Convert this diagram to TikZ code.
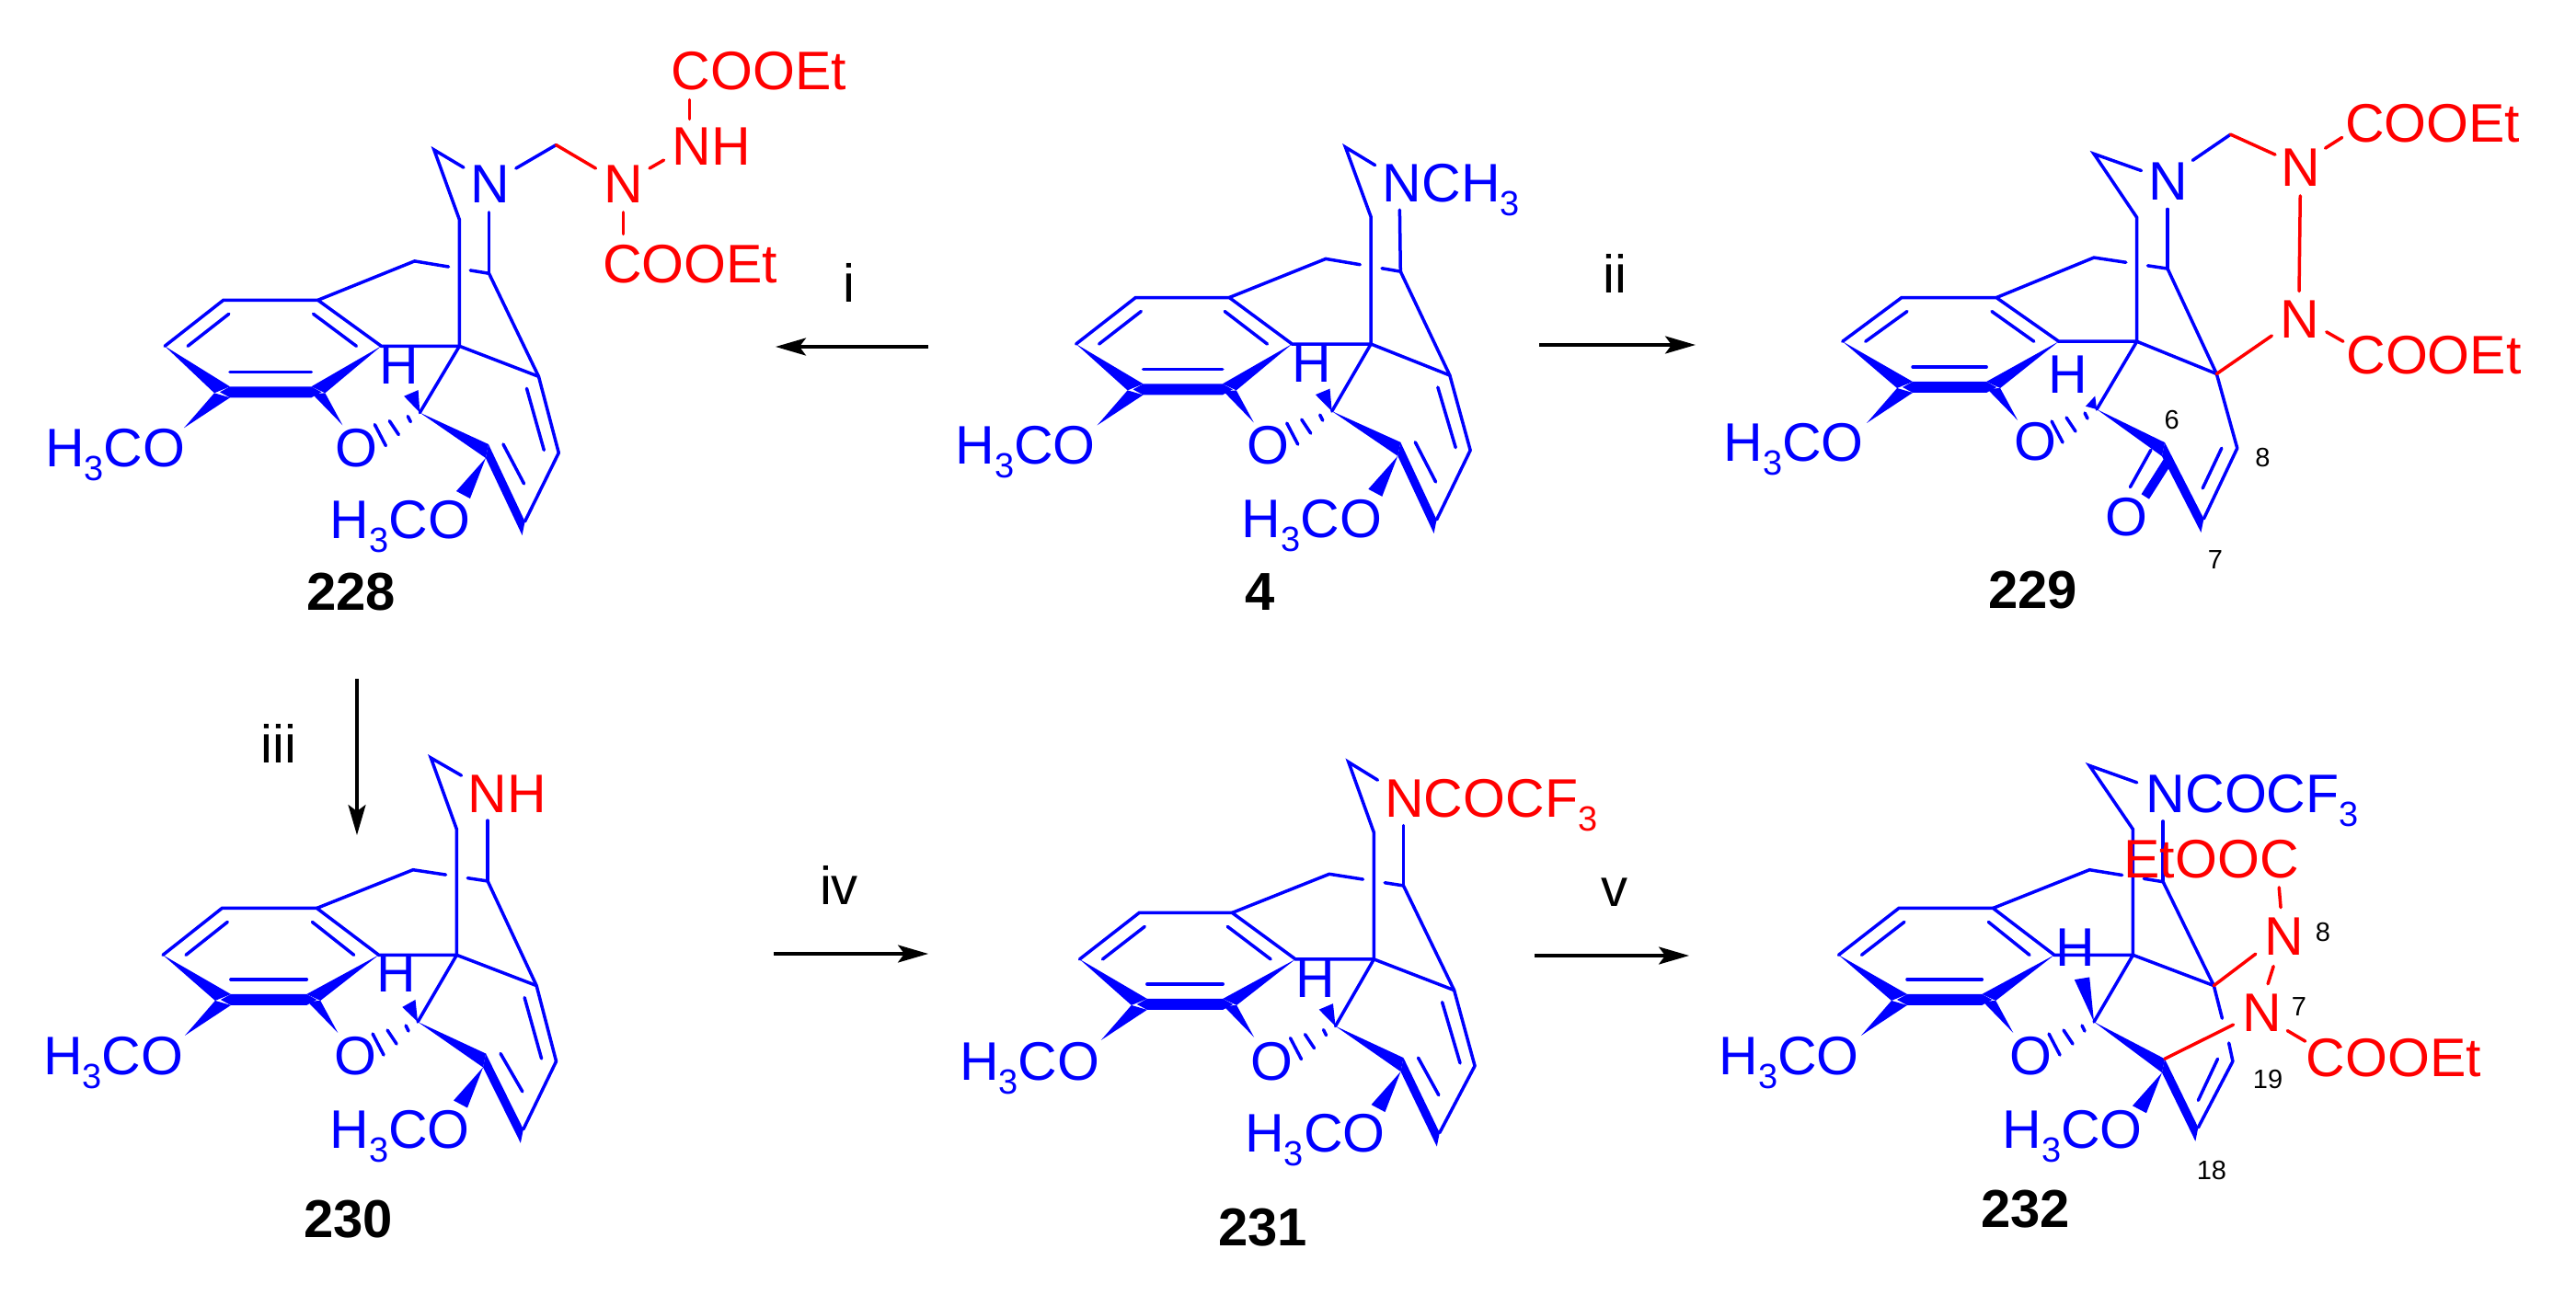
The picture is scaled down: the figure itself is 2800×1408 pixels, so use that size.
\documentclass[tikz,border=0pt]{standalone}
\usepackage{fontspec}
\setmainfont{Liberation Sans}
\usetikzlibrary{calc,arrows.meta}
\definecolor{mb}{RGB}{0,0,255}
\definecolor{mr}{RGB}{255,0,0}
\newcommand\setatoms[1]{\foreach \n/\a/\b in {#1} {\coordinate (\n) at (\a,\b);}}
\newcommand\sub[1]{\raisebox{-15pt}{\fontsize{38}{40}\selectfont #1}}
\newcommand\hco{H\sub{3}CO}
\tikzset{
  bd/.style={draw=mb,line width=3.5pt,line cap=round},
  rb/.style={draw=mr,line width=3.5pt,line cap=round},
  lab/.style={anchor=base west,inner sep=0pt,xshift=-4pt,font=\fontsize{59}{62}\selectfont},
  bl/.style={lab,text=mb},
  rd/.style={lab,text=mr},
  num/.style={anchor=base west,inner sep=0pt,text=black,font=\fontsize{29}{32}\selectfont},
  cmp/.style={anchor=base,inner sep=0pt,text=black,font=\fontsize{58}{62}\selectfont\bfseries},
  stp/.style={anchor=base,inner sep=0pt,text=black,font=\fontsize{58}{62}\selectfont},
  arr/.style={draw=black,line width=3.5pt,-{Stealth[length=33pt,width=19pt,inset=7pt]}},
  zA/.style={shift={(0,0)},x=0.574pt,y=-0.4464pt},
  zB/.style={shift={(1000,100)},x=0.4464pt,y=-0.3827pt},
  zC/.style={shift={(1850,50)},x=0.606pt,y=-0.4145pt},
  zD/.style={shift={(0,780)},x=0.5102pt,y=-0.3827pt},
  zE/.style={shift={(1000,780)},x=0.5102pt,y=-0.3827pt},
  zF/.style={shift={(1850,780)},x=0.606pt,y=-0.3827pt},
}
\newcommand\core{%
  \coordinate (cx) at (intersection cs:first line={(c1)--(c2)},second line={(c4)--(c0)});
  \draw[bd] (r1)--(r2)--(r3)--(r4)--(c0)--(c3);
  \draw[bd] (r3)--(c1)--($(cx)!12pt!(c1)$);
  \draw[bd] ($(cx)!12pt!(c2)$)--(c2)--(c3);
  \draw[bd] (e2)--(c2);
  \draw[bd] (c0)--(c4)--(c9)--(e9);
  \draw[bd] (c0)--(c5);
  \draw[bd] (c7)--(c8);
  % inner ring bonds
  \draw[bd] ($(r1)+(25,0)$)--($(r2)+(6,15)$);
  \draw[bd] ($(r3)+(-5,15)$)--($(r4)+(-27,0)$);
  \draw[bd] ($(r6)+(6,-22)$)--($(r5)+(-6,-22)$);
  % bold ring bond
  \fill[mb] ($(r6)+(-5,0)$)--($(r6)+(6,-6)$)--($(r5)+(-6,-6)$)--($(r5)+(5,0)$)--($(r5)+(-6,6)$)--($(r6)+(6,6)$)--cycle;
  % wedges on ring
  \fill[mb] (r1)--($(r6)+(6,-6)$)--($(r6)+(-11,1)$)--cycle;
  \fill[mb] (r4)--($(r5)+(-6,-6)$)--($(r5)+(9,1)$)--cycle;
  \fill[mb] ($(r6)+(-44,39)$)--($(r6)+(-11,1)$)--($(r6)+(6,6)$)--cycle;
  \fill[mb] ($(r5)+(28,36)$)--($(r5)+(-5,2)$)--($(r5)+(9,1)$)--cycle;
  % stereo bonds at c5
  \fill[mb] (c5)--(hA)--(hB)--cycle;
  \draw[bd] ($(c5)+(-49,13)$)--($(c5)+(-37,36)$);
  \draw[bd] ($(c5)+(-33,9)$)--($(c5)+(-23,24)$);
  \draw[bd] ($(c5)+(-13,4)$)--($(c5)+(-10,10)$);
  % bold path c5-c6-c7
  \coordinate (c6b) at ($(c6)+(-3,15)$);
  \fill[mb] (c5)--(c6)--(c6b)--cycle;
  \fill[mb] (c7)--($(c7)+(-3,15)$)--(c6b)--(c6)--cycle;
}
\newcommand\ome{\fill[mb] (c6b)--($(c6b)+(-32,36)$)--($(c6b)+(-17,44)$)--cycle;}
\newcommand\dblA{%
  \draw[bd] (c3)--(c8);
  \draw[bd] ($(c3)+(-13,13)$)--($(c8)+(-16,-3)$);
  \draw[bd] ($(c6)+(16,0)$)--($(c7)+(-1,-41)$);
}
\begin{document}
\begin{tikzpicture}[x=1pt,y=-1pt]
\useasboundingbox (0,0) rectangle (2800,1408);
\fill[white] (0,0) rectangle (2800,1408);
% ---------- 228 ----------
\begin{scope}[zA]
\setatoms{r1/312/843,r2/423/731,r3/602/731,r4/722/843,r5/600/955,r6/425/955,c1/785/636,c2/926/666,c3/1020/917,c0/870/843,c4/870/535,c9/822/365,c5/795/1005,c6/925/1082,c7/994/1270,c8/1058/1103,e9/878/408,e2/926/517,hA/765/965,hB/792/950,
p1/977/410,p2/1053/353,p3/1128/410,p4/1230/410,p5/1257/390,p6/1306/243,p7/1306/290,p8/1180/517,p9/1180/570}
\end{scope}
\core\ome\dblA
\begin{scope}[zA]
\draw[bd] (p1)--(p2);
\draw[rb] (p2)--(p3);
\draw[rb] (p4)--(p5);
\draw[rb] (p6)--(p7);
\draw[rb] (p8)--(p9);
\node[bl] (a1) at (897,495) {N};
\node[rd] (a2) at (1150,495) {N};
\node[rd] (a3) at (1280,403) {NH};
\node[rd] (a4) at (1278,218) {COOEt};
\node[rd] (a5) at (1148,688) {COOEt};
\node[bl] (a6) at (725,936) {H};
\node[bl] (a7) at (92,1137) {\hco};
\node[bl] (a8) at (642,1137) {O};
\node[bl] (a9) at (632,1312) {\hco};
\node[cmp] (a10) at (665,1487) {228};
\end{scope}
% ---------- 4 ----------
\begin{scope}[zB]
\setatoms{r1/380/716,r2/525/584,r3/753/584,r4/906/716,r5/750/845,r6/530/845,c1/988/474,c2/1170/510,c3/1290/805,c0/1098/716,c4/1098/355,c9/1036/157,c5/1003/907,c6/1170/995,c7/1258/1215,c8/1340/1018,e9/1108/208,e2/1168/335,hA/963/860,hB/998/843}
\end{scope}
\core\ome\dblA
\begin{scope}[zB]
\node[bl] (b1) at (1135,312) {NCH\sub{3}};
\node[bl] (b2) at (915,825) {H};
\node[bl] (b3) at (95,1058) {\hco};
\node[bl] (b4) at (805,1058) {O};
\node[bl] (b5) at (792,1267) {\hco};
\node[cmp] (b6) at (828,1472) {4};
\end{scope}
% ---------- 229 ----------
\begin{scope}[zC]
\setatoms{r1/252/775,r2/358/660,r3/528/660,r4/640/775,r5/520/895,r6/368/895,c1/703/555,c2/835/584,c3/923/860,c0/780/775,c4/780/450,c9/703/283,c5/708/953,c6/830/1040,c7/900/1240,c8/960/1055,e9/788/327,e2/835/428,hA/688/945,hB/705/918,
p1/880/300,p2/948/232,p3/1028/285,p4/1118/268,p5/1148/240,p6/1073/393,p7/1071/643,p8/1120/750,p9/1150/775,p10/1022/760,i1/932/1055,i2/898/1160,o1/805/1060,o2/768/1157,o3/835/1090,o4/795/1182}
\end{scope}
\core
\draw[bd] (c3)--(c8);
\begin{scope}[zC]
\draw[bd] (i1)--(i2);
\draw[bd] (o1)--(o2);
\draw[mb,line width=10pt] (o3)--(o4);
\draw[bd] (p1)--(p2);
\draw[rb] (p2)--(p3);
\draw[rb] (p4)--(p5);
\draw[rb] (p6)--(p7);
\draw[rb] (p8)--(p9);
\draw[rb] (c3)--(p10);
\node[bl] (d1) at (808,403) {N};
\node[rd] (d2) at (1045,368) {N};
\node[rd] (d3) at (1160,252) {COOEt};
\node[rd] (d4) at (1043,765) {N};
\node[rd] (d5) at (1162,860) {COOEt};
\node[bl] (d6) at (628,910) {H};
\node[bl] (d7) at (45,1090) {\hco};
\node[bl] (d8) at (567,1088) {O};
\node[bl] (d9) at (730,1285) {O};
\node[num] (d10) at (829,1005) {6};
\node[num] (d11) at (992,1103) {8};
\node[num] (d12) at (907,1372) {7};
\node[cmp] (d13) at (593,1475) {229};
\end{scope}
% ---------- 230 ----------
\begin{scope}[zD]
\setatoms{r1/347/675,r2/473/542,r3/675/542,r4/807/675,r5/665/802,r6/480/802,c1/880/433,c2/1039/465,c3/1143/762,c0/973/675,c4/973/318,c9/918/115,c5/890/865,c6/1035/955,c7/1115/1170,c8/1185/977,e9/983/165,e2/1039/293,hA/857/823,hB/885/802}
\end{scope}
\core\ome\dblA
\begin{scope}[zD]
\node[rd] (e1) at (1005,270) {NH};
\node[bl] (e3) at (810,780) {H};
\node[bl] (e4) at (100,1015) {\hco};
\node[bl] (e5) at (720,1015) {O};
\node[bl] (e6) at (710,1223) {\hco};
\node[cmp] (e7) at (742,1477) {230};
\end{scope}
% ---------- 231 ----------
\begin{scope}[zE]
\setatoms{r1/340/687,r2/467/555,r3/665/555,r4/800/687,r5/657/815,r6/472/815,c1/872/445,c2/1030/478,c3/1138/775,c0/967/687,c4/967/327,c9/913/127,c5/885/877,c6/1030/967,c7/1107/1180,c8/1182/990,e9/975/178,e2/1030/307,hA/850/830,hB/880/813}
\end{scope}
\core\ome\dblA
\begin{scope}[zE]
\node[rd] (f1) at (998,283) {NCOCF\sub{3}};
\node[bl] (f2) at (808,795) {H};
\node[bl] (f3) at (92,1030) {\hco};
\node[bl] (f4) at (712,1030) {O};
\node[bl] (f5) at (700,1235) {\hco};
\node[cmp] (f6) at (730,1502) {231};
\end{scope}
% ---------- 232 ----------
\begin{scope}[zF]
\setatoms{r1/245/675,r2/353/542,r3/522/542,r4/632/675,r5/512/802,r6/358/802,c1/695/433,c2/827/467,c3/918/762,c0/773/675,c4/773/318,c9/695/137,c5/703/865,c6/830/970,c7/890/1165,c8/952/977,e9/780/185,e2/827/295,hA/668/745,hB/695/738,
i1/925/970,i2/890/1088,p1/933/855,p2/945/925,p3/1035/483,p4/1038/540,p5/993/672,p6/1025/707,p7/1015/757,p8/1050/890,p9/1082/920,p10/953/873}
\end{scope}
\core\ome
\begin{scope}[zF]
\draw[bd] (i1)--(i2);
\draw[bd] (c3)--(p1);
\draw[bd] (p2)--(c8);
\draw[rb] (p3)--(p4);
\draw[rb] (p5)--(c3);
\draw[rb] (p6)--(p7);
\draw[rb] (p8)--(p9);
\draw[rb] (p10)--(c6);
\node[bl] (g1) at (803,270) {NCOCF\sub{3}};
\node[rd] (g2) at (763,455) {EtOOC};
\node[rd] (g3) at (1015,675) {N};
\node[rd] (g4) at (975,893) {N};
\node[rd] (g5) at (1090,1020) {COOEt};
\node[bl] (g6) at (640,708) {H};
\node[bl] (g7) at (37,1015) {\hco};
\node[bl] (g8) at (558,1015) {O};
\node[bl] (g9) at (545,1223) {\hco};
\node[num] (g10) at (1100,635) {8};
\node[num] (g11) at (1057,848) {7};
\node[num] (g12) at (988,1055) {19};
\node[num] (g13) at (887,1312) {18};
\node[cmp] (g14) at (580,1448) {232};
\end{scope}
% ---------- arrows ----------
\coordinate (a1s) at (1009,377); \coordinate (a1e) at (843,377);
\coordinate (a2s) at (1673,375); \coordinate (a2e) at (1843,375);
\coordinate (a3s) at (388,738);  \coordinate (a3e) at (388,908);
\coordinate (a4s) at (841,1037); \coordinate (a4e) at (1009,1037);
\coordinate (a5s) at (1668,1039);\coordinate (a5e) at (1836,1039);
\draw[arr] (a1s)--(a1e);
\draw[arr] (a2s)--(a2e);
\draw[arr] (a3s)--(a3e);
\draw[arr] (a4s)--(a4e);
\draw[arr] (a5s)--(a5e);
\node[stp] (s1) at (923,328) {i};
\node[stp] (s2) at (1755,318) {ii};
\node[stp] (s3) at (303,829) {iii};
\node[stp] (s4) at (912,983) {iv};
\node[stp] (s5) at (1755,985) {v};
\end{tikzpicture}
\end{document}
